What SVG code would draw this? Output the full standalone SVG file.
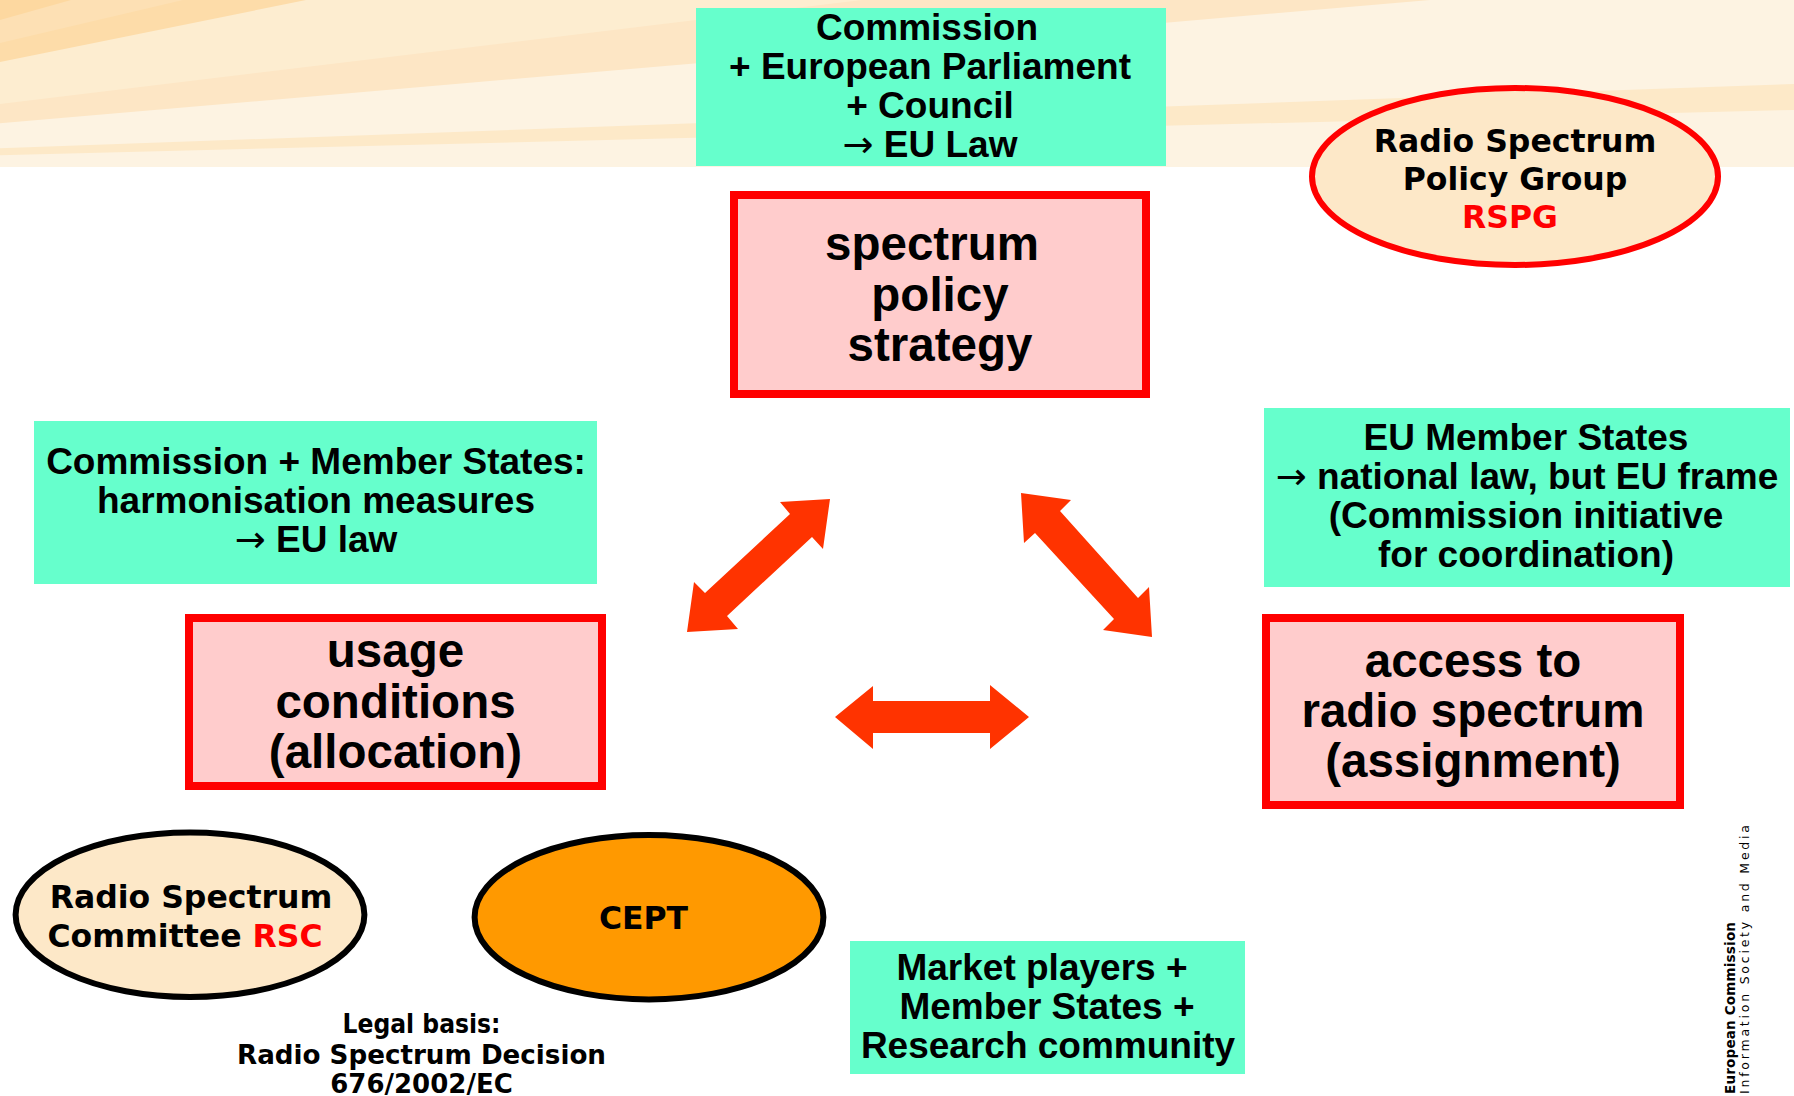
<svg xmlns="http://www.w3.org/2000/svg" width="1794" height="1096" viewBox="0 0 1794 1096">
  <style>
    .green { fill: #66ffcc; }
    .box { fill: #ffcccc; stroke: #ff0000; stroke-width: 8; }
    .arrow { fill: #ff3300; }
    .sans37 { font-family: "Liberation Sans", Arial, sans-serif; font-weight: bold; font-size: 37px; text-anchor: middle; fill: #000; }
    .sans47 { font-family: "Liberation Sans", Arial, sans-serif; font-weight: bold; font-size: 47.5px; text-anchor: middle; fill: #000; }
    .ra { font-family: "DejaVu Sans", sans-serif; font-weight: normal; font-size: 37px; }
    .ell { font-family: "DejaVu Sans", Verdana, sans-serif; font-weight: bold; font-size: 31.5px; text-anchor: middle; fill: #000; }
    .legal { font-family: "DejaVu Sans", Verdana, sans-serif; font-weight: bold; font-size: 26px; text-anchor: middle; fill: #000; }
    .red { fill: #ff0000; }
    .logo { font-family: "DejaVu Sans", Verdana, sans-serif; fill: #000; }
  </style>

  <rect x="0" y="0" width="1794" height="1096" fill="#ffffff"/>

  <!-- header band with light rays -->
  <g id="header-band">
    <rect x="0" y="0" width="1794" height="167" fill="#fdf3e2"/>
    <polygon points="0,0 1430,0 0,123.3" fill="#fde6c5"/>
    <polygon points="0,0 862,0 0,104" fill="#fdedd0"/>
    <polygon points="0,0 306,0 0,62" fill="#fddca9"/>
    <polygon points="0,0 183,0 0,43" fill="#fde0b4"/>
    <polygon points="0,0 71,0 0,20" fill="#fdd8a0"/>
    <polygon points="0,148.3 1794,83.9 1794,109.9 0,155.3" fill="#fde9c8"/>
  </g>

  <!-- bidirectional connectors -->
  <g id="connectors">
    <polygon class="arrow" points="830,499 780,502 790,514 705,593 694,582 687,632 738,629 727,616 812,537 823,549"/>
    <polygon class="arrow" points="1021,493 1071,500 1060,511 1138,598 1149,587 1152,637 1103,630 1114,619 1035,533 1024,543"/>
    <polygon class="arrow" points="835,717 873,686 873,701 990,701 990,685 1029,717 990,749 990,733 873,733 873,749"/>
  </g>

  <g id="eu-law-box">
    <rect class="green" x="696" y="8" width="470" height="158"/>
    <text class="sans37" x="927" y="40">Commission</text>
    <text class="sans37" x="930" y="79">+ European Parliament</text>
    <text class="sans37" x="930" y="118">+ Council</text>
    <text class="sans37" x="930" y="157"><tspan class="ra">→</tspan> EU Law</text>
  </g>

  <g id="strategy">
    <rect class="box" x="734" y="195" width="412" height="199"/>
    <text class="sans47" x="932" y="260">spectrum</text>
    <text class="sans47" x="940" y="310.5">policy</text>
    <text class="sans47" x="940" y="361">strategy</text>
  </g>

  <g id="rspg">
    <ellipse cx="1515" cy="176.5" rx="203" ry="88.5" fill="#fde8c8" stroke="#ff0000" stroke-width="6"/>
    <text class="ell" x="1515" y="151.7">Radio Spectrum</text>
    <text class="ell" x="1515" y="190">Policy Group</text>
    <text class="ell red" x="1510" y="227.7">RSPG</text>
  </g>

  <g id="harmonisation-box">
    <rect class="green" x="34" y="421" width="563" height="163"/>
    <text class="sans37" x="316" y="474">Commission + Member States:</text>
    <text class="sans37" x="316" y="513">harmonisation measures</text>
    <text class="sans37" x="316" y="552"><tspan class="ra">→</tspan> EU law</text>
  </g>

  <g id="national-box">
    <rect class="green" x="1264" y="408" width="526" height="179"/>
    <text class="sans37" x="1526" y="450">EU Member States</text>
    <text class="sans37" x="1527" y="489"><tspan class="ra">→</tspan> national law, but EU frame</text>
    <text class="sans37" x="1526" y="528">(Commission initiative</text>
    <text class="sans37" x="1526" y="567">for coordination)</text>
  </g>

  <g id="usage">
    <rect class="box" x="189" y="618" width="413" height="168"/>
    <text class="sans47" x="395.5" y="667">usage</text>
    <text class="sans47" x="395.5" y="717.7">conditions</text>
    <text class="sans47" x="395.5" y="768">(allocation)</text>
  </g>

  <g id="access">
    <rect class="box" x="1266" y="618" width="414" height="187"/>
    <text class="sans47" x="1473" y="677">access to</text>
    <text class="sans47" x="1473" y="727">radio spectrum</text>
    <text class="sans47" x="1473" y="777">(assignment)</text>
  </g>

  <g id="rsc">
    <ellipse cx="190" cy="914.7" rx="174.4" ry="82.3" fill="#fde8c8" stroke="#000" stroke-width="6"/>
    <text class="ell" x="191" y="908">Radio Spectrum</text>
    <text class="ell" x="185" y="947">Committee <tspan class="red">RSC</tspan></text>
  </g>

  <g id="cept">
    <ellipse cx="649" cy="917.2" rx="174.4" ry="82.2" fill="#ff9900" stroke="#000" stroke-width="6"/>
    <text class="ell" x="643.5" y="929">CEPT</text>
  </g>

  <g id="legal-basis">
    <text class="legal" x="421.5" y="1033" textLength="158" lengthAdjust="spacingAndGlyphs">Legal basis:</text>
    <text class="legal" x="421.5" y="1063.5" textLength="369" lengthAdjust="spacingAndGlyphs">Radio Spectrum Decision</text>
    <text class="legal" x="421.5" y="1093">676/2002/EC</text>
  </g>

  <g id="market-box">
    <rect class="green" x="850" y="941" width="395" height="133"/>
    <text class="sans37" x="1042" y="980">Market players +</text>
    <text class="sans37" x="1047" y="1019">Member States +</text>
    <text class="sans37" x="1048" y="1058">Research community</text>
  </g>

  <g id="logo">
    <text class="logo" font-size="13.5" font-weight="bold" transform="translate(1735,1094) rotate(-90)" textLength="172" lengthAdjust="spacing">European Commission</text>
    <text class="logo" font-size="12.5" transform="translate(1749,1094) rotate(-90)" textLength="269" lengthAdjust="spacing">Information Society and Media</text>
  </g>
</svg>
